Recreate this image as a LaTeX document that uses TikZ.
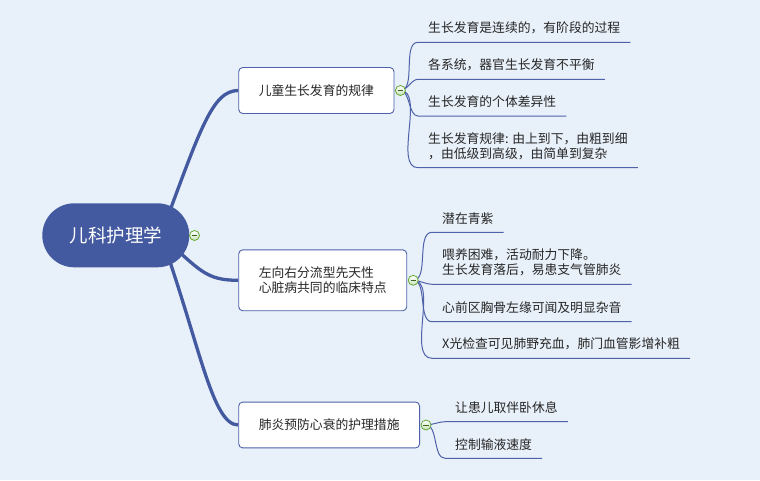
\documentclass[tikz,border=0pt]{standalone}
\usepackage{fontspec}
\newfontfamily\cjk{Noto Sans CJK SC}
\definecolor{mapbg}{RGB}{232,240,249}
\definecolor{mapblue}{RGB}{67,89,160}
\definecolor{linkblue}{RGB}{78,98,170}
\definecolor{foldgreen}{RGB}{100,170,50}
\pgfdeclarelayer{bg}
\pgfdeclarelayer{links}
\pgfsetlayers{bg,links,main}
\begin{document}
\begin{tikzpicture}[x=1pt, y=-1pt,
    rootnode/.style={rectangle, rounded corners=32pt, fill=mapblue, text=white, minimum width=147pt, minimum height=64pt, font=\cjk\fontsize{18.5}{22}\selectfont},
    topic/.style={anchor=west, draw=linkblue, fill=white, rounded corners=4pt, line width=0.9pt, inner xsep=20pt, inner ysep=17pt, align=left, text=black!85, font=\cjk\fontsize{12.8}{15}\selectfont},
    leaf/.style={anchor=south west, inner xsep=10pt, inner ysep=8pt, align=left, text=black!85, font=\cjk\fontsize{12.8}{15}\selectfont},
    fold/.style={circle, draw=foldgreen, line width=0.8pt, top color=white, bottom color=foldgreen!35, inner sep=0pt, minimum size=10pt,
        path picture={\draw[foldgreen!60!black, line width=0.8pt] ([xshift=-2.6pt]path picture bounding box.center) -- ([xshift=2.6pt]path picture bounding box.center);}},
    trunk/.style={draw=mapblue, line width=3.3pt},
    twig/.style={draw=linkblue, line width=1pt, out=0, in=180, looseness=0.8},
]
    \useasboundingbox (0,0) rectangle (760,480);
    \begin{pgfonlayer}{bg}
        \fill[mapbg] (0,0) rectangle (760,480);
    \end{pgfonlayer}

    \node[rootnode] (root) at (115.8,235.3) {儿科护理学};
    \node[fold] (f0) at (194.5,235.5) {};

    \node[topic] (t1) at (238.3,90.5) {儿童生长发育的规律};
    \node[topic] (t2) at (238.3,280.3) {左向右分流型先天性\\心脏病共同的临床特点};
    \node[topic] (t3) at (238.3,425) {肺炎预防心衰的护理措施};
    \node[fold] (f1) at ([xshift=6pt]t1.east) {};
    \node[fold] (f2) at ([xshift=6pt]t2.east) {};
    \node[fold] (f3) at ([xshift=6pt]t3.east) {};

    \node[leaf] (l11) at (418,42.3) {生长发育是连续的，有阶段的过程};
    \node[leaf] (l12) at (418,79.3) {各系统，器官生长发育不平衡};
    \node[leaf] (l13) at (418,116) {生长发育的个体差异性};
    \node[leaf] (l14) at (418,167.7) {生长发育规律: 由上到下，由粗到细\\，由低级到高级，由简单到复杂};

    \node[leaf] (l21) at (432,232.3) {潜在青紫};
    \node[leaf] (l22) at (432,284.3) {喂养困难，活动耐力下降。\\生长发育落后，易患支气管肺炎};
    \node[leaf] (l23) at (432,321.7) {心前区胸骨左缘可闻及明显杂音};
    \node[leaf] (l24) at (432,358.3) {X光检查可见肺野充血，肺门血管影增补粗};

    \node[leaf] (l31) at (445,421.7) {让患儿取伴卧休息};
    \node[leaf] (l32) at (445,458.3) {控制输液速度};

    \begin{pgfonlayer}{links}
        \draw[trunk] ([xshift=45pt]root.center) .. controls (200,130) and (212,90.5) .. (t1.west);
        \draw[trunk] ([xshift=45pt]root.center) .. controls (200,270) and (205,280.3) .. (t2.west);
        \draw[trunk] ([xshift=45pt]root.center) .. controls (200,345) and (212,425) .. (t3.west);

        \foreach \l in {l11,l12,l13,l14}
            \draw[twig] (f1.center) to (\l.south west) -- (\l.south east);
        \foreach \l in {l21,l22,l23,l24}
            \draw[twig] (f2.center) to (\l.south west) -- (\l.south east);
        \foreach \l in {l31,l32}
            \draw[twig] (f3.center) to (\l.south west) -- (\l.south east);
    \end{pgfonlayer}
\end{tikzpicture}
\end{document}
